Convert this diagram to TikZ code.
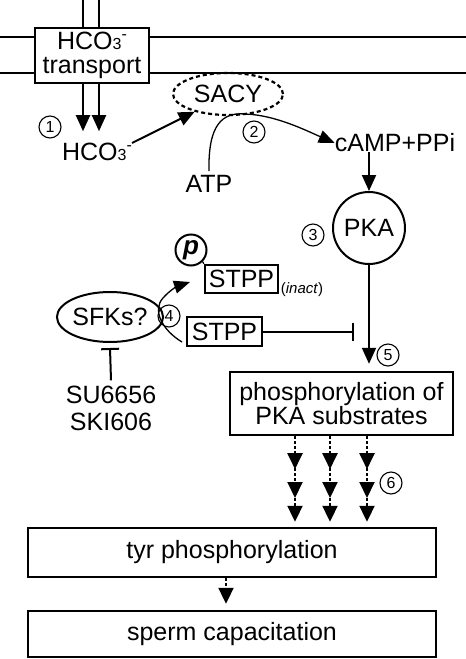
\documentclass[tikz,border=0pt]{standalone}
\usepackage{fontspec}
\setmainfont{Liberation Sans}
\usetikzlibrary{arrows.meta,shapes.geometric,calc}
\begin{document}
\begin{tikzpicture}[x=1pt,y=-1pt,
  every node/.style={font=\fontsize{25}{24}\selectfont, inner sep=0pt},
  box/.style={draw, line width=2.4pt, rectangle, align=center},
  num/.style={draw, circle, line width=1.1pt, minimum size=22pt, font=\fontsize{16}{16}\selectfont},
  arr/.style={line width=2pt, -{Triangle[length=16pt,width=14pt]}},
  thinarr/.style={line width=1.3pt, -{Triangle[length=16pt,width=13pt]}},
  darr/.style={line width=2pt, dash pattern=on 3pt off 2pt, -{Triangle[length=16pt,width=15pt]}},
  inh/.style={line width=2pt, -{Bar[width=18pt,line width=2pt]}},
  memb/.style={line width=1.8pt}
]
\useasboundingbox (0,0) rectangle (466,659);
% membrane
\draw[memb] (0,37) -- (466,37);
\draw[memb] (0,73) -- (466,73);
\draw[memb] (83,0) -- (83,28);
\draw[memb] (99,0) -- (99,28);
\node[box, fill=white, minimum width=114pt, minimum height=55pt] (tr) at (92,55.5)
  {HCO{\fontsize{16}{16}\selectfont 3\raisebox{10pt}{-}}\\transport};
% nodes
\node[draw, ellipse, line width=2.2pt, dash pattern=on 4pt off 3pt, minimum width=110pt, minimum height=42pt] (sacy) at (228,94) {SACY};
\node (hco) at (97,152) {HCO{\fontsize{16}{16}\selectfont 3\raisebox{10pt}{-}}};
\node (atp) at (209,184) {ATP};
\node (camp) at (395,143) {cAMP+PPi};
\node[draw, circle, line width=2pt, minimum size=72pt] (pka) at (369,228) {PKA};
\node[draw, circle, line width=2pt, minimum size=31pt, font=\fontsize{26}{26}\selectfont\bfseries\itshape] (p) at (191,250) {p};
\node[box, minimum width=73pt, minimum height=28pt] (stppi) at (241.5,279) {STPP};
\node[font=\fontsize{15}{15}\selectfont] (inact) at (302,290) {(\textit{inact})};
\node[draw, ellipse, line width=2pt, minimum width=90pt, minimum height=50pt] (sfk) at (110,317) {SFKs?};
\node[box, minimum width=75pt, minimum height=29pt] (stppa) at (224.5,331.5) {STPP};
\node[align=center, font=\fontsize{25}{27}\selectfont] (su) at (111,408) {SU6656\\SKI606};
\node[box, minimum width=223pt, minimum height=63pt] (phos) at (341.5,403.5) {phosphorylation of\\PKA substrates};
\node[box, minimum width=408pt, minimum height=49pt] (tyr) at (232,552.5) {tyr phosphorylation};
\node[box, minimum width=408pt, minimum height=46pt] (sperm) at (232,634) {sperm capacitation};
% numbers
\node[num] (n1) at (50,127) {1};
\node[num] (n2) at (254,132) {2};
\node[num] (n3) at (313,235) {3};
\node[num] (n4) at (169,316) {4};
\node[num] (n5) at (388,355) {5};
\node[num] (n6) at (391,483) {6};
% connectors
\draw[arr] ([xshift=-9pt]tr.south) -- ++(0,47);
\draw[arr] ([xshift=7pt]tr.south) -- ++(0,47);
\draw[arr] (hco.north east) -- (sacy.208);
\draw[thinarr] ([yshift=4pt]atp.north) .. controls (208,125) and (222,112) .. (245,114)
   .. controls (275,115) and (305,130) .. (camp.west);
\draw[arr] (pka.north |- camp.south) -- (pka.north);
\draw[arr, shorten >=7pt] (pka.south) -- (pka.south |- phos.north);
\draw[inh] (stppa.east) -- ++(91,0);
\draw[inh] ([yshift=5pt]su.north) -- ([yshift=-5pt]sfk.south);
\coordinate (c4s) at (182,342);
\coordinate (c4e) at (190,282);
\draw[thinarr] (c4s) .. controls (162,330) and (152,310) .. (163,298)
   .. controls (170,290) and (178,286) .. (c4e);
\draw[line width=1.2pt] (p.-45) -- (stppi.north west);
\foreach \x in {295,330,367} {
  \draw[darr] (\x,0 |- phos.south) -- ++(0,33);
  \draw[darr] (\x,468) -- ++(0,30);
  \draw[darr] (\x,498) -- (\x,0 |- tyr.north) [shorten >=5pt];
}
\draw[darr, shorten >=6pt] (226,0 |- tyr.south) -- (226,0 |- sperm.north);
\end{tikzpicture}
\end{document}
